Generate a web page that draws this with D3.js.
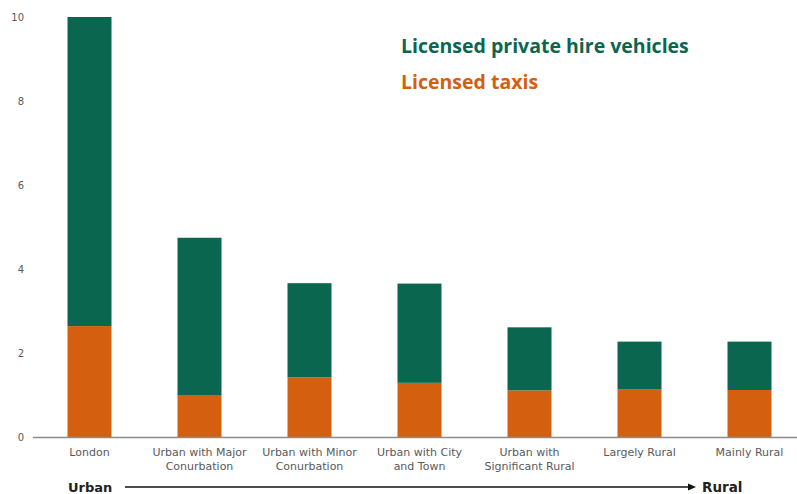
<!DOCTYPE html>
<html>
<head>
<meta charset="utf-8">
<script src="https://cdn.jsdelivr.net/npm/d3@7/dist/d3.min.js"></script>
<style>
  html, body { margin: 0; padding: 0; background: #fff; }
  svg { display: block; }
</style>
</head>
<body>
<svg id="chart" width="797" height="494"></svg>
<script>
// Licensed vehicles per 1,000 people by rural-urban classification
const categories = [
  ["London"],
  ["Urban with Major", "Conurbation"],
  ["Urban with Minor", "Conurbation"],
  ["Urban with City", "and Town"],
  ["Urban with", "Significant Rural"],
  ["Largely Rural"],
  ["Mainly Rural"]
];
const taxis = [2.65, 1.01, 1.43, 1.30, 1.12, 1.14, 1.13];
const privateHire = [7.35, 3.74, 2.24, 2.36, 1.50, 1.14, 1.15];
const yTicks = [0, 2, 4, 6, 8, 10];
const seriesNames = ["Licensed private hire vehicles", "Licensed taxis"];

const green = "#0b6650";
const orange = "#d4600f";

const svg = d3.select("#chart");
const keys = categories.map((c, i) => i);

const x = d3.scaleBand().domain(keys).range([34.5, 804.5]).paddingInner(0.6).paddingOuter(0.3);
const y = d3.scaleLinear().domain([0, 10]).range([437.5, 17]);

const rows = keys.map(i => ({ i, taxi: taxis[i], phv: privateHire[i] }));
const stack = d3.stack().keys(["taxi", "phv"])(rows);
const colors = { taxi: orange, phv: green };

// stacked bars
svg.append("g").selectAll("g")
  .data(stack)
  .join("g")
  .attr("fill", d => colors[d.key])
  .selectAll("rect")
  .data(d => d)
  .join("rect")
  .attr("x", d => x(d.data.i))
  .attr("width", x.bandwidth())
  .attr("y", d => y(d[1]))
  .attr("height", d => y(d[0]) - y(d[1]));

// y axis labels
const yAxis = d3.axisLeft(y).tickValues(yTicks).tickSize(0).tickPadding(0);
svg.append("g")
  .attr("transform", "translate(24,0)")
  .call(yAxis)
  .call(g => g.select(".domain").remove())
  .call(g => g.selectAll("text")
    .attr("fill", "#595959")
    .attr("font-family", "DejaVu Sans, sans-serif")
    .attr("font-size", 10));

// baseline
svg.append("line")
  .attr("x1", 33).attr("x2", 797)
  .attr("y1", y(0)).attr("y2", y(0))
  .attr("stroke", "#8c8c8c").attr("stroke-width", 1.3);

// category labels
const catG = svg.append("g")
  .attr("font-family", "DejaVu Sans, sans-serif")
  .attr("font-size", 11)
  .attr("fill", "#595959")
  .attr("text-anchor", "middle");
catG.selectAll("text")
  .data(keys)
  .join("text")
  .attr("x", i => x(i) + x.bandwidth() / 2)
  .attr("y", 456)
  .each(function (i) {
    d3.select(this).selectAll("tspan")
      .data(categories[i])
      .join("tspan")
      .attr("x", x(i) + x.bandwidth() / 2)
      .attr("dy", (d, k) => k === 0 ? 0 : 14)
      .text(d => d);
  });

// urban -> rural arrow
const arrowY = 487;
svg.append("text")
  .attr("x", 68).attr("y", arrowY + 5)
  .attr("font-family", "DejaVu Sans, sans-serif")
  .attr("font-weight", "bold").attr("font-size", 13)
  .attr("fill", "#222")
  .text("Urban");
svg.append("line")
  .attr("x1", 125).attr("x2", 690)
  .attr("y1", arrowY).attr("y2", arrowY)
  .attr("stroke", "#111").attr("stroke-width", 1.6);
svg.append("path")
  .attr("d", `M688,${arrowY - 3.5} L696,${arrowY} L688,${arrowY + 3.5} Z`)
  .attr("fill", "#111");
svg.append("text")
  .attr("x", 702).attr("y", arrowY + 5)
  .attr("font-family", "DejaVu Sans, sans-serif")
  .attr("font-weight", "bold").attr("font-size", 13.5)
  .attr("fill", "#222")
  .text("Rural");

// legend
const legend = svg.append("g")
  .attr("font-family", "Open Sans, sans-serif")
  .attr("font-weight", "bold")
  .attr("font-size", 19.5);
legend.append("text").attr("x", 401).attr("y", 53).attr("fill", green).text(seriesNames[0]);
legend.append("text").attr("x", 401).attr("y", 89).attr("fill", orange).text(seriesNames[1]);
</script>
</body>
</html>
